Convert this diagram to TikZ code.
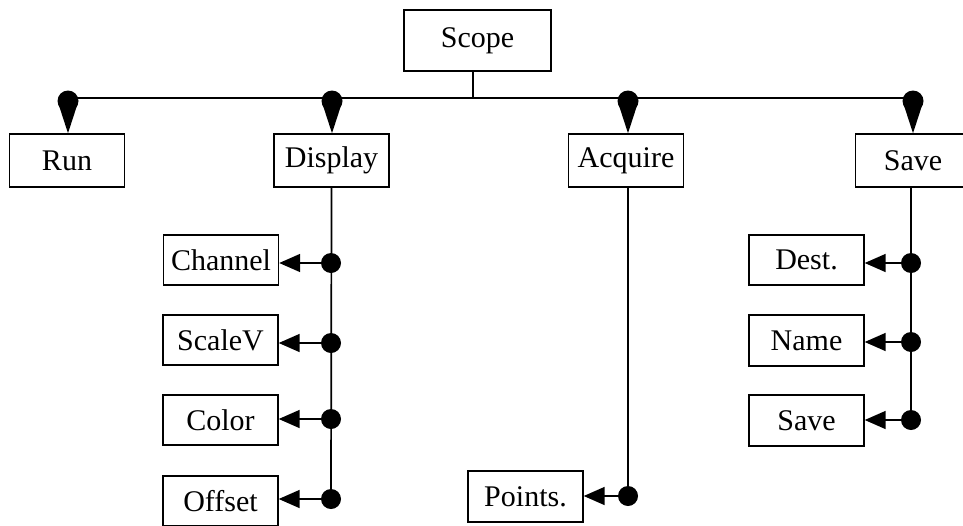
\documentclass[tikz,border=0pt]{standalone}
\usepackage{fontspec}
\setmainfont{Liberation Serif}
\usetikzlibrary{arrows.meta}
\begin{document}
\begin{tikzpicture}[x=1pt,y=-1pt,
  box/.style={draw,line width=1.4pt,inner sep=0pt,minimum width=115pt,minimum height=51pt,font=\fontsize{30}{32}\selectfont},
  link/.style={line width=1.7pt},
  lefttip/.style={link,-{Triangle[length=21pt,width=18pt]}},
  droptip/.style={link,-{Triangle[length=30pt,width=19pt]}},
  dot/.style={circle,fill,inner sep=0pt,minimum size=20pt},
  bigdot/.style={circle,fill,inner sep=0pt,minimum size=21pt}]
\useasboundingbox (0,0) rectangle (963,525);
% top level
\node[box,minimum width=147pt,minimum height=61pt] (scope) at (477.5,40.5) {Scope};
\node[box,minimum height=53pt] (run) at (67,160.5) {Run};
\node[box,minimum height=53pt] (disp) at (331.5,160.5) {Display};
\node[box,minimum height=53pt] (acq) at (626,160.5) {Acquire};
\node[box,minimum height=53pt] (save) at (913,160.5) {Save};
% second level
\node[box,minimum height=50pt] (chan) at (221,260) {Channel};
\node[box,minimum height=50pt] (scalev) at (220.5,340) {ScaleV};
\node[box,minimum height=50pt] (color) at (220.5,420) {Color};
\node[box,minimum height=50pt] (offset) at (220.5,501) {Offset};
\node[box,minimum height=51pt] (points) at (525.5,496.5) {Points.};
\node[box,minimum height=50pt] (dest) at (806.5,260) {Dest.};
\node[box,minimum height=51pt] (name) at (806.5,340.5) {Name};
\node[box,minimum height=51pt] (savef) at (806.5,420.5) {Save};
% bus
\coordinate (bus) at (473,98);
\coordinate (jrun) at (68,98);
\coordinate (jdisp) at (332,98);
\coordinate (jacq) at (628,98);
\coordinate (jsave) at (913,98);
\draw[link] (scope.south -| bus) -- (bus);
\draw[link] (jrun) -- (jsave);
\foreach \j/\b in {jrun/run,jdisp/disp,jacq/acq,jsave/save}{
  \node[bigdot] at ([yshift=-3pt]\j) {};
  \draw[droptip] ([yshift=-3pt]\j) -- (\j |- \b.north);
}
% Display branch
\coordinate (d1) at (331,263);
\coordinate (d2) at (331,343);
\coordinate (d3) at (331,419);
\coordinate (d4) at (331,499);
\draw[link] (disp.south) -- (d4);
\foreach \d/\b in {d1/chan,d2/scalev,d3/color,d4/offset}{
  \node[dot] at (\d) {};
  \draw[lefttip] (\d) -- (\d -| \b.east);
}
% Acquire branch
\coordinate (a1) at (628,496);
\draw[link] (acq.south -| a1) -- (a1);
\node[dot] at (a1) {};
\draw[lefttip] (a1) -- (a1 -| points.east);
% Save branch
\coordinate (s1) at (911,263);
\coordinate (s2) at (911,342);
\coordinate (s3) at (911,420);
\draw[link] (save.south -| s1) -- (s3);
\foreach \s/\b in {s1/dest,s2/name,s3/savef}{
  \node[dot] at (\s) {};
  \draw[lefttip] (\s) -- (\s -| \b.east);
}
\end{tikzpicture}
\end{document}
